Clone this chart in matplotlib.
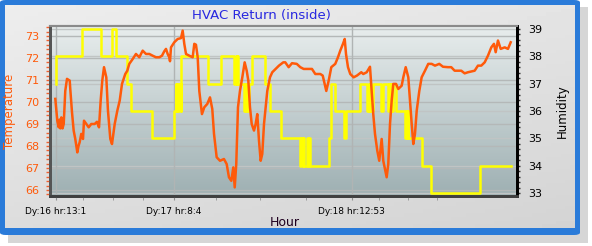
import numpy as np
import matplotlib
matplotlib.use("Agg")
import matplotlib.pyplot as plt
from matplotlib.patches import FancyBboxPatch, Rectangle
from matplotlib.ticker import MultipleLocator, FixedLocator

# hours since Dy:16 hr:13:1
temp_hours = [-0.11, 0.21, 0.44, 0.57, 0.70, 0.86, 1.05, 1.25, 1.50, 1.78, 2.22, 2.31,
              2.59, 2.86, 3.12, 3.45, 3.64, 3.83, 4.09, 4.37, 4.53, 4.90, 5.29, 5.71,
              6.26, 6.63, 6.96, 7.23, 7.49, 7.77, 8.14, 8.41, 8.79, 9.06, 9.50, 9.92,
              10.31, 10.68, 11.21, 11.54, 11.86, 12.41, 12.94, 13.48, 14.03, 14.56,
              15.10, 15.65, 16.18, 16.72, 17.15, 17.52, 17.80, 18.07, 18.33, 18.45,
              18.61, 19.14, 19.69, 20.23, 20.50, 20.76, 21.04, 21.57, 22.12, 22.38,
              22.65, 22.93, 23.19, 23.62, 24.00, 24.48, 24.92, 25.29, 25.57, 26.00,
              26.54, 27.18, 27.62, 27.99, 28.37, 28.69, 28.92, 29.17, 29.45, 29.77,
              30.15, 30.53, 30.86, 31.12, 31.39, 31.67, 32.04, 32.31, 32.57, 32.85,
              33.12, 33.38, 33.66, 33.93, 34.19, 34.63, 35.00, 35.55, 36.08, 36.78,
              37.10, 37.65, 38.19, 38.96, 39.53, 40.08, 41.42, 41.96, 42.77, 43.16,
              43.48, 43.74, 44.13, 44.55, 45.19, 45.63, 46.00, 46.44, 46.72, 46.93,
              47.25, 47.62, 48.17, 48.71, 49.40, 49.72, 50.28, 50.81, 51.08, 51.34,
              51.62, 51.99, 52.31, 52.70, 52.96, 53.51, 53.77, 54.05, 54.32, 54.58,
              55.02, 55.39, 55.94, 56.20, 56.59, 57.01, 57.28, 57.56, 57.82, 58.09,
              58.37, 58.79, 59.17, 59.71, 60.24, 60.79, 61.33, 62.02, 62.62, 63.43,
              63.96, 64.51, 65.58, 66.13, 66.67, 67.75, 68.28, 68.82, 69.37, 69.90,
              70.44, 70.87, 71.15, 71.52, 71.96, 72.61, 73.14, 73.58]
temperature = [70.14, 69.15, 68.85, 69.2, 68.8, 69.3, 68.8, 69.0, 70.5, 71.05, 70.97, 70.59,
               69.53, 68.7, 68.32, 67.71, 68.0, 68.17, 68.55, 68.32, 69.15, 69.0, 68.85, 69.0,
               69.0, 69.1, 68.85, 70.06, 70.97, 71.58, 71.12, 69.6, 68.32, 68.09, 69.0, 69.6,
               70.06, 70.82, 71.27, 71.42, 71.73, 71.95, 72.18, 72.03, 72.33, 72.18,
               72.18, 72.1, 72.03, 72.03, 72.1, 72.3, 72.41, 72.18, 72.03, 71.85,
               72.48, 72.71, 72.86, 72.9, 73.24, 72.64, 72.18, 72.1, 72.03, 72.64,
               72.6, 72.03, 70.5, 69.45, 69.76, 69.91, 70.21, 69.68, 68.55, 67.49,
               67.33, 67.41, 67.18, 66.58, 66.42, 67.03, 66.12, 67.18, 69.76, 70.5,
               71.12, 71.8, 71.42, 70.97, 69.76, 69.0, 68.7, 69.0, 69.45, 68.24,
               67.33, 67.64, 69.0, 69.76, 70.5, 71.12, 71.35, 71.5, 71.65, 71.8,
               71.8, 71.58, 71.76, 71.73, 71.58, 71.5, 71.5, 71.27, 71.27, 71.2,
               70.82, 70.5, 70.97, 71.58, 71.73, 72.03, 72.33, 72.64, 72.86, 72.18,
               71.58, 71.27, 71.12, 71.2, 71.35, 71.27, 71.35, 71.6, 70.5, 69.45,
               68.55, 67.79, 67.33, 68.32, 67.33, 66.58, 67.18, 69.0, 70.06, 70.82,
               70.82, 70.59, 70.74, 71.12, 71.58, 71.12, 70.06, 69.0, 68.09, 68.55,
               69.6, 70.5, 71.12, 71.42, 71.73, 71.73, 71.65, 71.73, 71.6, 71.58,
               71.58, 71.42, 71.42, 71.3, 71.35, 71.42, 71.65, 71.65, 71.8, 72.1,
               72.48, 72.64, 72.26, 72.79, 72.41, 72.48, 72.41, 72.71]

# humidity is a step series: value holds from each time until the next
hum_hours = [0.00, 0.08, 4.26, 7.33, 9.11, 9.76, 11.57, 12.14, 15.53, 19.14,
             19.34, 19.50, 19.66, 19.82, 19.98, 20.15, 20.23, 24.64, 26.65,
             28.88, 29.05, 29.21, 29.37, 29.53, 30.42, 30.58, 30.74, 30.91, 31.07,
             31.23, 31.76, 33.82, 34.58, 36.36, 39.56, 39.72, 39.89, 40.05, 40.13,
             40.61, 40.78, 40.94, 41.10, 44.13, 44.55, 45.19, 46.55, 46.93, 49.14,
             50.40, 50.57, 50.73, 50.89, 51.05, 51.25, 52.59, 52.96, 53.80, 53.96,
             54.13, 54.29, 54.45, 54.58, 55.02, 56.47, 56.63, 56.80, 56.96, 57.04,
             59.17, 60.68, 68.56, 73.58]
humidity = [37, 38, 39, 38, 39, 38, 37, 36, 35, 36,
            37, 36, 37, 36, 37, 36, 38, 37, 38,
            37, 38, 37, 38, 37, 36, 37, 36, 37, 36,
            37, 38, 37, 36, 35, 34, 35, 34, 35, 34,
            35, 34, 35, 34, 35, 37, 36, 35, 36, 37,
            36, 37, 36, 37, 36, 37, 36, 37, 36, 37,
            36, 37, 36, 37, 36, 35, 36, 35, 36, 35,
            34, 33, 34, 34]

tick_hours = [0.0, 19.05, 47.87]
tick_labels = ["Dy:16 hr:13:1", "Dy:17 hr:8:4", "Dy:18 hr:12:53"]
minor_hours = [4.37, 9.22, 14.08, 25.89, 33.01, 40.45, 52.27, 56.96, 61.65]

ORANGE = "#ff5a0a"
TICK_ORANGE = "#f06030"
BLUE = "#2a7bd9"

fig = plt.figure(figsize=(5.92, 2.46), dpi=100)
fig.patch.set_facecolor("white")

# shadow and blue frame
fig.patches.append(Rectangle((8 / 592, 1 - 243 / 246), 580 / 592, 236 / 246,
                             transform=fig.transFigure, facecolor="#d6d6d6",
                             edgecolor="none", zorder=-3))
fig.patches.append(FancyBboxPatch((0, 1 - 235 / 246), 580 / 592, 235 / 246,
                                  boxstyle="round,pad=0,rounding_size=0.01",
                                  transform=fig.transFigure, facecolor=BLUE,
                                  edgecolor="none", zorder=-2))

# light panel inside the frame, shaded toward the lower right
panel = fig.add_axes([5 / 592, 1 - 228 / 246, 570 / 592, 223 / 246], zorder=-1)
gy, gx = np.mgrid[0:1:60j, 0:1:120j]
shade = 0.93 - 0.10 * (0.65 * gy + 0.35 * gx)
panel.imshow(shade, cmap="gray", vmin=0, vmax=1, aspect="auto",
             extent=[0, 1, 0, 1], origin="upper")
panel.set_axis_off()

ax1 = fig.add_axes([50 / 592, 1 - 196 / 246, 467 / 592, 170 / 246])
ax2 = ax1.twinx()
ax1.set_zorder(2)
ax2.set_zorder(1)
ax1.patch.set_visible(False)

# gradient background of plot area
grad = np.linspace(0, 1, 100).reshape(-1, 1)
top = np.array([0.91, 0.93, 0.93])
bot = np.array([0.62, 0.69, 0.70])
img = top + (bot - top) * grad[:, :, None]
ax2.imshow(img, extent=[0, 1, 0, 1], transform=ax2.transAxes, aspect="auto", zorder=0)

ax2.step(hum_hours, humidity, where="post", color="#ffff00", linewidth=1.8, zorder=3)
ax1.plot(temp_hours, temperature, color=ORANGE, linewidth=1.8, zorder=3)

ax1.set_xlim(-0.97, 74.6)
ax1.set_ylim(65.73, 73.45)
ax2.set_ylim(32.89, 39.11)

# grid lines
for v in range(66, 74):
    ax2.axhline((v - 65.73) / (73.45 - 65.73) * (39.11 - 32.89) + 32.89,
                color="#b4b8b8", linewidth=1.0, zorder=1)
for v in range(33, 40):
    ax2.axhline(v, color="#c0c4c4", linewidth=1.0, zorder=1)
for h in tick_hours:
    ax2.axvline(h, color="#b0b4b4", linewidth=1.0, zorder=1)

ax1.set_xticks(tick_hours)
ax1.set_xticklabels(tick_labels, fontsize=6.5)
ax1.xaxis.set_minor_locator(FixedLocator(minor_hours))
ax1.tick_params(axis="x", which="both", length=3, color="#909090", pad=5)

ax1.set_yticks(range(66, 74))
ax1.yaxis.set_minor_locator(MultipleLocator(0.2))
ax1.tick_params(axis="y", which="both", length=3, width=1, color=TICK_ORANGE,
                labelcolor=ORANGE, labelsize=8, pad=5)
ax2.set_yticks(range(33, 40))
ax2.yaxis.set_minor_locator(MultipleLocator(0.2))
ax2.tick_params(axis="y", which="both", length=2, width=1, color="#303030",
                labelcolor="black", labelsize=8, pad=6)

for ax in (ax1, ax2):
    ax.spines["left"].set_color("#555555")
    ax.spines["left"].set_linewidth(2)
    ax.spines["bottom"].set_color("#404040")
    ax.spines["bottom"].set_linewidth(2)
    ax.spines["top"].set_color("#8a8a8a")
    ax.spines["top"].set_linewidth(1.5)
    ax.spines["right"].set_color("black")
    ax.spines["right"].set_linewidth(2)

ax1.set_ylabel("Temperature", color=ORANGE, fontsize=8.5, labelpad=6)
ax2.set_ylabel("Humidity", color="black", fontsize=8.5, labelpad=10)
ax1.set_xlabel("Hour", fontsize=9, color="#200020", va="center")
ax1.xaxis.set_label_coords(235 / 467, -26 / 170)

fig.text(261 / 592, 1 - 15 / 246, "HVAC Return (inside)", color="#2828e0",
         fontsize=9.5, ha="center", va="center")

fig.savefig("out.png", dpi=100)
